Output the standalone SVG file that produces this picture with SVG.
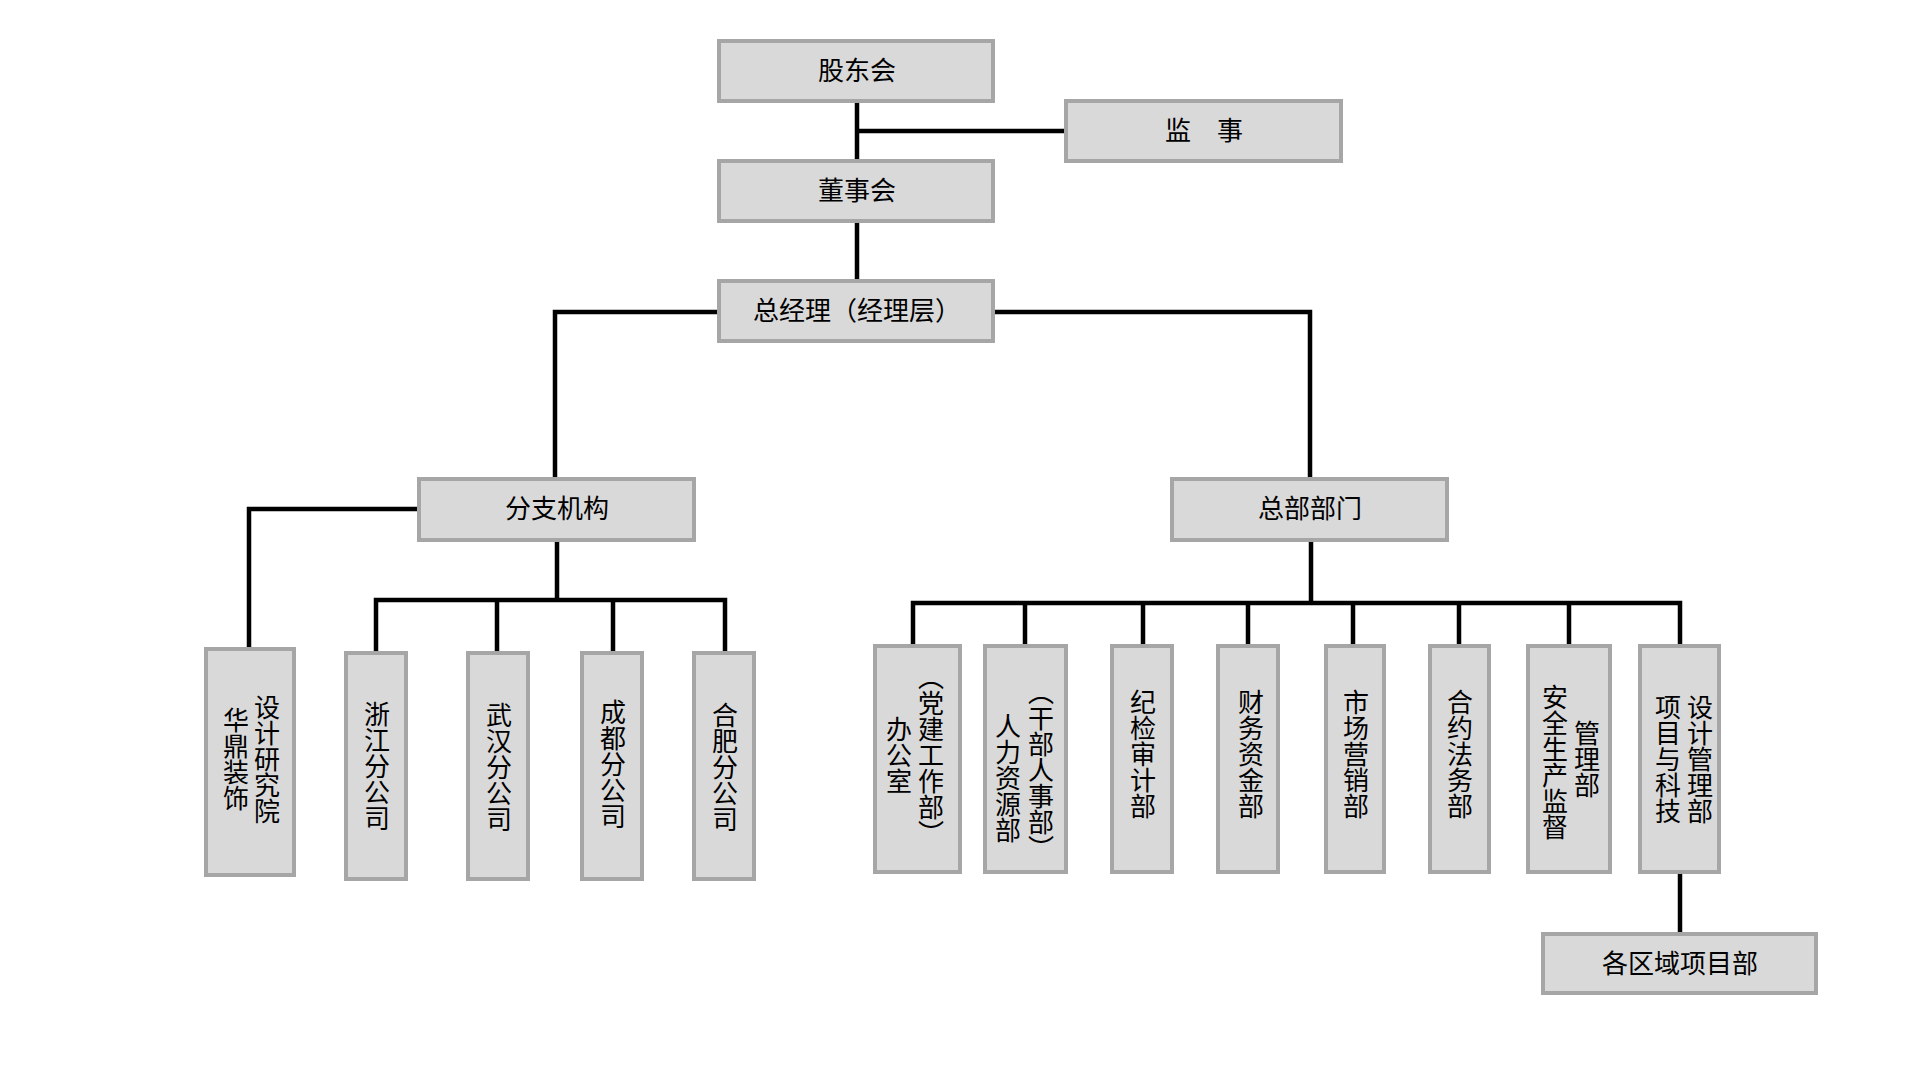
<svg xmlns="http://www.w3.org/2000/svg" width="1920" height="1080" viewBox="0 0 1920 1080">
<style>
.box{fill:#d9d9d9;stroke:#a6a6a6;stroke-width:4}
.t{font-family:"Liberation Serif","Noto Sans CJK SC",serif;font-size:26px;fill:#000;text-anchor:middle;dominant-baseline:central}
.v{writing-mode:vertical-rl}
.ln{fill:none;stroke:#000;stroke-width:4.5;stroke-linejoin:miter;stroke-linecap:butt}
</style>
<rect width="1920" height="1080" fill="#fff"/>
<g id="connectors">
<path class="ln" d="M857,103 V159 M857,131 H1064 M857,223 V279"/>
<path class="ln" d="M717,312 H555 V477 M995,312 H1310 V477"/>
<path class="ln" d="M418,509 H249 V647"/>
<path class="ln" d="M557,542 V600 M376,651 V600 H725 V651 M497,600 V651 M613,600 V651"/>
<path class="ln" d="M1311,542 V603 M913,644 V603 H1680 V644 M1025,603 V644 M1143,603 V644 M1248,603 V644 M1353,603 V644 M1459,603 V644 M1569,603 V644"/>
<path class="ln" d="M1680,874 V932"/>
</g>
<g id="n-gudonghui"><rect class="box" x="719" y="41" width="274" height="60"/><text class="t" x="857" y="71">股东会</text></g>
<g id="n-jianshi"><rect class="box" x="1066" y="101" width="275" height="60"/><text class="t" x="1204" y="131">监　事</text></g>
<g id="n-dongshihui"><rect class="box" x="719" y="161" width="274" height="60"/><text class="t" x="857" y="191">董事会</text></g>
<g id="n-zongjingli"><rect class="box" x="719" y="281" width="274" height="60"/><text class="t" x="857" y="311">总经理（经理层）</text></g>
<g id="n-fenzhi"><rect class="box" x="419" y="479" width="275" height="61"/><text class="t" x="557" y="509">分支机构</text></g>
<g id="n-zongbu"><rect class="box" x="1172" y="479" width="275" height="61"/><text class="t" x="1310" y="509">总部部门</text></g>
<g id="n-huading"><rect class="box" x="206" y="649" width="88" height="226"/><text class="t v" x="233" y="759">华鼎装饰</text><text class="t v" x="264" y="759">设计研究院</text></g>
<g id="n-zhejiang"><rect class="box" x="346" y="653" width="60" height="226"/><text class="t v" x="374" y="766">浙江分公司</text></g>
<g id="n-wuhan"><rect class="box" x="468" y="653" width="60" height="226"/><text class="t v" x="496" y="767">武汉分公司</text></g>
<g id="n-chengdu"><rect class="box" x="582" y="653" width="60" height="226"/><text class="t v" x="610" y="764">成都分公司</text></g>
<g id="n-hefei"><rect class="box" x="694" y="653" width="60" height="226"/><text class="t v" x="722" y="767">合肥分公司</text></g>
<g id="n-bangongshi"><rect class="box" x="875" y="646" width="85" height="226"/><text class="t v" x="896" y="755">办公室</text><text class="t v" x="928" y="755">（党建工作部）</text></g>
<g id="n-renli"><rect class="box" x="985" y="646" width="81" height="226"/><text class="t v" x="1005" y="778">人力资源部</text><text class="t v" x="1038" y="770">（干部人事部）</text></g>
<g id="n-jijian"><rect class="box" x="1112" y="646" width="60" height="226"/><text class="t v" x="1140" y="754">纪检审计部</text></g>
<g id="n-caiwu"><rect class="box" x="1218" y="646" width="60" height="226"/><text class="t v" x="1248" y="754">财务资金部</text></g>
<g id="n-shichang"><rect class="box" x="1326" y="646" width="58" height="226"/><text class="t v" x="1353" y="754">市场营销部</text></g>
<g id="n-heyue"><rect class="box" x="1430" y="646" width="59" height="226"/><text class="t v" x="1457" y="754">合约法务部</text></g>
<g id="n-anquan"><rect class="box" x="1528" y="646" width="82" height="226"/><text class="t v" x="1552" y="762">安全生产监督</text><text class="t v" x="1584" y="759">管理部</text></g>
<g id="n-xiangmu"><rect class="box" x="1640" y="646" width="79" height="226"/><text class="t v" x="1665" y="759">项目与科技</text><text class="t v" x="1697" y="759">设计管理部</text></g>
<g id="n-quyu"><rect class="box" x="1543" y="934" width="273" height="59"/><text class="t" x="1680" y="964">各区域项目部</text></g>
</svg>
